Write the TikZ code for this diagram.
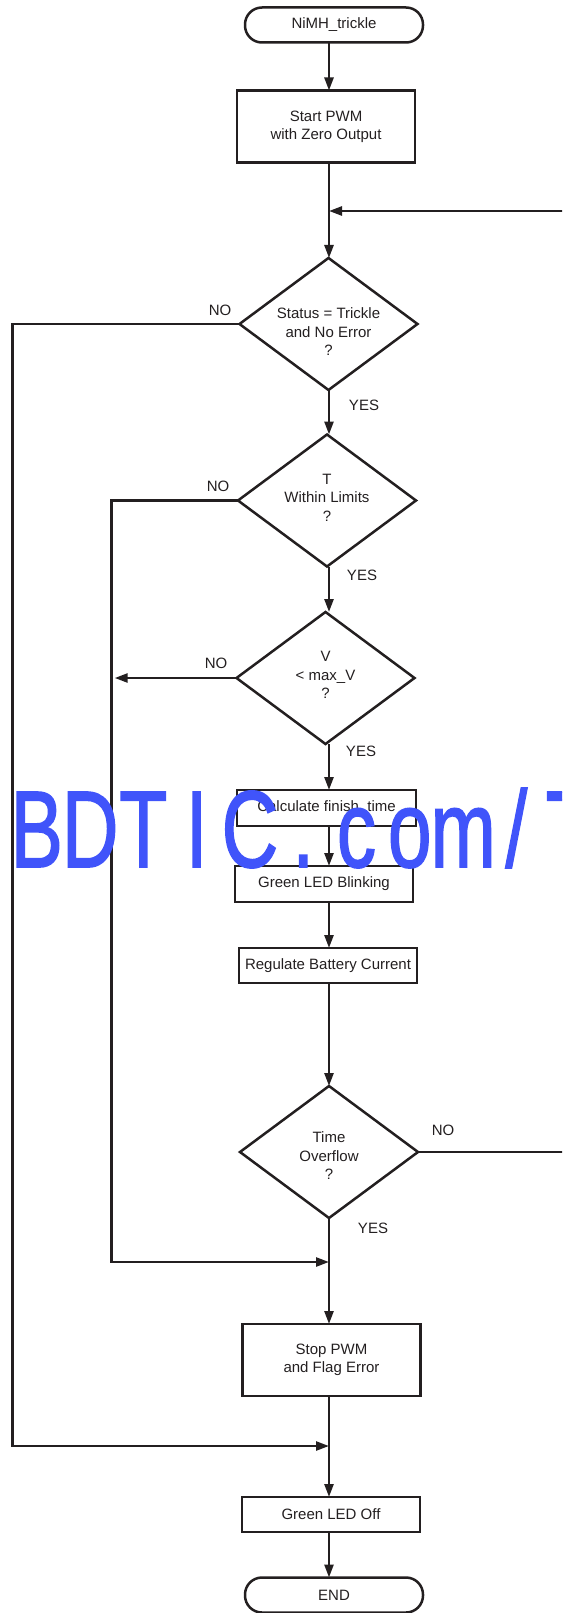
\documentclass[tikz,border=0pt]{standalone}
\usepackage{fontspec}
\setmainfont{Liberation Sans}
\newfontfamily\wmfont[FakeBold=1.6]{Liberation Sans}
\usetikzlibrary{arrows.meta,shapes.geometric,calc}
\definecolor{ink}{RGB}{35,31,32}
\definecolor{wmblue}{RGB}{64,84,250}
\newcommand{\wmc}[1]{\makebox[74pt]{#1}}
\begin{document}
\begin{tikzpicture}[x=1pt,y=-1pt,
  every node/.style={font=\fontsize{15}{18.3}\selectfont, text=ink},
  wire/.style={draw=ink, line width=2.5pt},
  arr/.style={wire, -{Triangle[length=13pt,width=9pt]}},
  term/.style={draw=ink, line width=2.5pt, rounded corners=17pt, minimum width=178pt, minimum height=35pt, inner sep=0pt, outer sep=0pt},
  proc/.style={draw=ink, line width=2.5pt, minimum width=178pt, inner sep=0pt, outer sep=0pt, align=center},
  dec/.style={diamond, draw=ink, line width=2.5pt, minimum width=178pt, minimum height=132pt, inner sep=0pt, outer sep=0pt},
  dtext/.style={align=center, inner sep=0pt},
  lbl/.style={inner sep=0pt}
]
\path[use as bounding box] (0,0) rectangle (562,1613);
\clip (0,0) rectangle (562,1613);
\coordinate (ax) at (329,0);

% nodes
\node[term] (start) at (334,25) {NiMH\_trickle};
\node[proc, minimum height=72pt] (pwm) at (326,126.5) {Start PWM\\with Zero Output};
\coordinate (loop) at (329,211);
\node[dec] (d1) at (328.5,324) {};
\node[dtext] (d1t) at (328.5,331.7) {Status = Trickle\\and No Error\\?};
\node[dec] (d2) at (327,500.5) {};
\node[dtext] (d2t) at (327,497.7) {T\\Within Limits\\?};
\node[dec] (d3) at (325.5,678) {};
\node[dtext] (d3t) at (325.5,675) {V\\< max\_V\\?};
\node[proc, minimum width=179pt, minimum height=36pt] (calc) at (326.5,808) {Calculate finish\_time};
\node[proc, minimum height=36pt] (blink) at (324,884) {Green LED Blinking};
\node[proc, minimum height=35pt] (reg) at (328,965.5) {Regulate Battery Current};
\node[dec] (d4) at (329,1152) {};
\node[dtext] (d4t) at (329,1155.7) {Time\\Overflow\\?};
\node[proc, minimum height=72pt] (stop) at (331.5,1360) {Stop PWM\\and Flag Error};
\node[proc, minimum height=35pt] (off) at (331,1514.5) {Green LED Off};
\node[term] (end) at (334,1595) {END};

% labels
\node[lbl] (no1) at (220,310) {NO};
\node[lbl] (yes1) at (364,405) {YES};
\node[lbl] (no2) at (218,486.5) {NO};
\node[lbl] (yes2) at (362,575) {YES};
\node[lbl] (no3) at (216,663) {NO};
\node[lbl] (yes3) at (361,751.5) {YES};
\node[lbl] (no4) at (443,1130) {NO};
\node[lbl] (yes4) at (373,1228) {YES};

% main flow
\draw[arr] (start.south -| ax) -- (pwm.north -| ax);
\draw[arr] (pwm.south -| ax) -- (d1.north -| ax);
\draw[arr] (d1.south -| ax) -- (d2.north -| ax);
\draw[arr] (d2.south -| ax) -- (d3.north -| ax);
\draw[arr] (d3.south -| ax) -- (calc.north -| ax);
\draw[arr] (calc.south -| ax) -- (blink.north -| ax);
\draw[arr] (blink.south -| ax) -- (reg.north -| ax);
\draw[arr] (reg.south -| ax) -- (d4.north -| ax);
\draw[arr] (d4.south -| ax) -- (stop.north -| ax);
\draw[arr] (stop.south -| ax) -- (off.north -| ax);
\draw[arr] (off.south -| ax) -- (end.north -| ax);

% loop back (NO of Time Overflow)
\coordinate (rt) at (600,211);
\draw[arr] (d4.east) -| (rt) -- (loop);

% left branches
\coordinate (l1) at (12.7,1446);
\coordinate (m1) at (329,1446);
\draw[arr] (d1.west) -| (l1) -- (m1);
\coordinate (l2) at (111.7,1262);
\coordinate (m2) at (329,1262);
\draw[arr] (d2.west) -| (l2) -- (m2);
\draw[arr, shorten >=3pt] (d3.west) -- (d3.west -| l2);

% watermark
\node[anchor=base west, inner sep=0pt, text=wmblue, font=\wmfont\fontsize{109}{109}\selectfont] (wm) at (10,867) {\scalebox{0.72}[1]{\wmc{B}\wmc{D}\wmc{T}\wmc{I}\wmc{C}\wmc{.}\wmc{c}\wmc{o}\wmc{m}\wmc{/}\wmc{T}}};
\end{tikzpicture}
\end{document}
